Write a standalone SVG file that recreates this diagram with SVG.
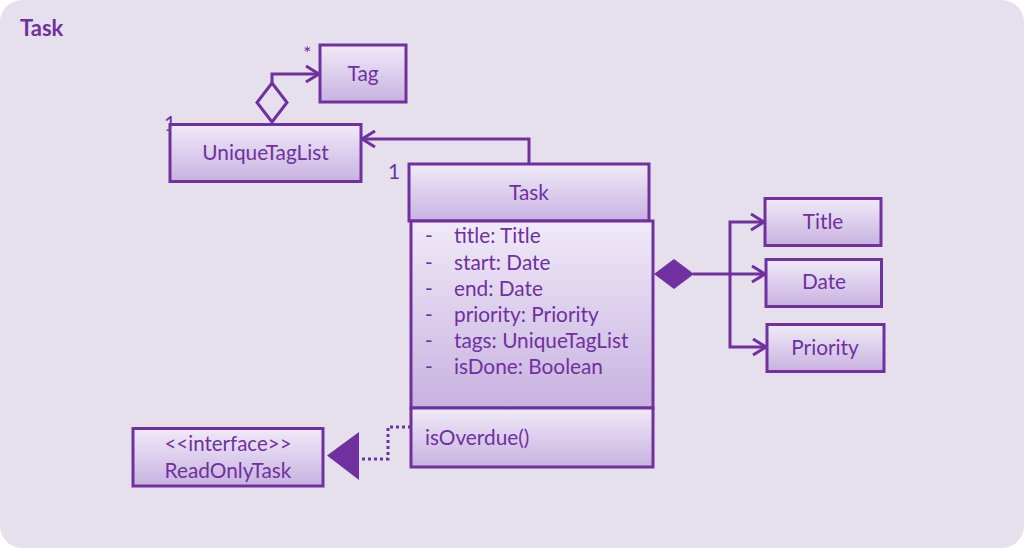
<svg xmlns="http://www.w3.org/2000/svg" width="1024" height="548" viewBox="0 0 1024 548">
<style>
.box{stroke:#7030A0;stroke-width:3;fill:url(#g)}
.t{font-family:Lato,"Liberation Sans",sans-serif;font-size:20.8px;fill:#7030A0}
.c{text-anchor:middle}
.ln{fill:none;stroke:#7030A0;stroke-width:3}
</style>
<defs>
<linearGradient id="g" x1="0" y1="0" x2="0" y2="1">
<stop offset="0" stop-color="#F0EAF8"/>
<stop offset="1" stop-color="#C8B2E0"/>
</linearGradient>
</defs>
<rect x="0" y="0" width="1024" height="548" fill="#FFFFFF"/>
<rect x="0" y="0" width="1024" height="548" rx="22" fill="#E6E0EC"/>
<text x="20" y="36" style="font-family:Lato,'Liberation Sans',sans-serif;font-size:22px;font-weight:bold;fill:#7030A0">Task</text>

<g id="connectors">
<path class="ln" d="M272 83 V74 H319"/>
<path class="ln" d="M306 66 L319 74 L306 82"/>
<polygon points="272,83 287,102.5 272,122 257,102.5" fill="#E6E0EC" stroke="#7030A0" stroke-width="3"/>
<text class="t" x="303" y="60" style="font-size:20px">*</text>
<text class="t" x="164" y="131">1</text>
<path class="ln" d="M529 163 V139 H362"/>
<path class="ln" d="M375 131 L362 139 L375 147"/>
<text class="t" x="388" y="179">1</text>
<polygon points="654,274 674,259 694,274 674,289" fill="#7030A0"/>
<path class="ln" d="M693 274 H765"/>
<path class="ln" d="M764 222 H730 V347 H766"/>
<path class="ln" d="M751 214 L764 222 L751 230"/>
<path class="ln" d="M752 266 L765 274 L752 282"/>
<path class="ln" d="M753 339 L766 347 L753 355"/>
<path d="M411 427 H388 V459 H360" fill="none" stroke="#7030A0" stroke-width="3" stroke-dasharray="3,3"/>
<polygon points="327,455.5 359,432 359,480" fill="#7030A0"/>
</g>

<g id="tag">
<rect class="box" x="320" y="45" width="86" height="57"/>
<text class="t c" x="363" y="81">Tag</text>
</g>
<g id="uniquetaglist">
<rect class="box" x="170" y="124.5" width="191" height="57"/>
<text class="t c" x="265.5" y="160">UniqueTagList</text>
</g>
<g id="task">
<rect class="box" x="409" y="164" width="240" height="57"/>
<text class="t c" x="529" y="200">Task</text>
<rect class="box" x="411" y="221" width="242" height="187"/>
<g class="t">
<text x="425" y="243">-</text><text x="454" y="243">title: Title</text>
<text x="425" y="269.5">-</text><text x="454" y="269.5">start: Date</text>
<text x="425" y="295.7">-</text><text x="454" y="295.7">end: Date</text>
<text x="425" y="321.9">-</text><text x="454" y="321.9">priority: Priority</text>
<text x="425" y="348.1">-</text><text x="454" y="348.1">tags: UniqueTagList</text>
<text x="425" y="374.3">-</text><text x="454" y="374.3">isDone: Boolean</text>
</g>
<rect class="box" x="411" y="408" width="242" height="59"/>
<text class="t" x="425" y="445">isOverdue()</text>
</g>
<g id="title">
<rect class="box" x="765" y="198.5" width="116" height="47"/>
<text class="t c" x="823" y="229">Title</text>
</g>
<g id="date">
<rect class="box" x="766" y="259.5" width="115.5" height="47"/>
<text class="t c" x="824" y="289">Date</text>
</g>
<g id="priority">
<rect class="box" x="767" y="324.5" width="117" height="47"/>
<text class="t c" x="825" y="355">Priority</text>
</g>
<g id="readonlytask">
<rect class="box" x="133" y="428.5" width="190" height="57.5"/>
<text class="t c" x="228" y="451" style="font-size:20.5px">&lt;&lt;interface&gt;&gt;</text>
<text class="t c" x="228" y="478">ReadOnlyTask</text>
</g>
</svg>
